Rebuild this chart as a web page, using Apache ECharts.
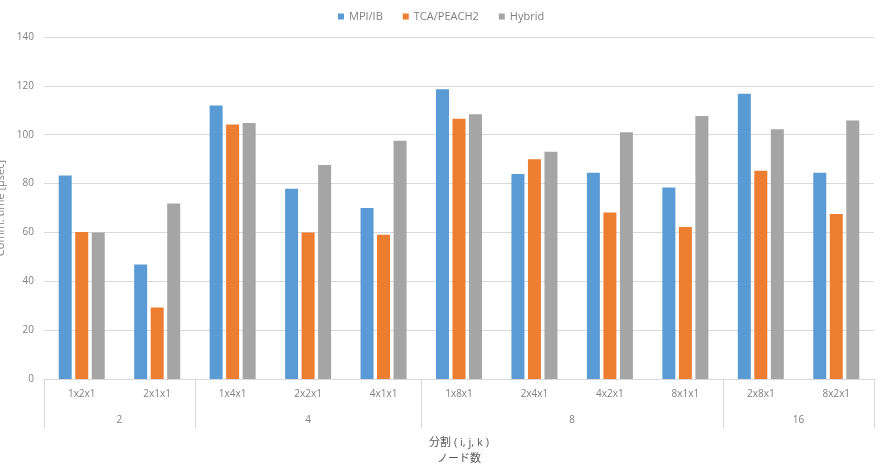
<!DOCTYPE html>
<html lang="ja">
<head>
    <meta charset="UTF-8">
    <title>Comm. time</title>
    <script src="https://cdn.jsdelivr.net/npm/echarts@6/dist/echarts.min.js"></script>
    <style>
        html, body { margin: 0; padding: 0; background: #fff; }
        #main { width: 881px; height: 465px; }
    </style>
</head>
<body>
<div id="main"></div>
<script>
    // 分割 (i, j, k) と ノード数
    var categories = ['1x2x1', '2x1x1', '1x4x1', '2x2x1', '4x1x1', '1x8x1', '2x4x1', '4x2x1', '8x1x1', '2x8x1', '8x2x1'];
    var groupNames = ['2', '4', '8', '16'];
    var groupSizes = [2, 3, 4, 2];

    var mpiIB = [83.3, 46.9, 112, 77.9, 70, 118.6, 83.9, 84.4, 78.4, 116.8, 84.4];
    var tcaPeach2 = [60.2, 29.3, 104.2, 60, 59.1, 106.5, 90, 68.2, 62.2, 85.2, 67.5];
    var hybrid = [60, 71.8, 104.8, 87.6, 97.5, 108.4, 93, 101, 107.7, 102.2, 105.8];

    var yTicks = [0, 20, 40, 60, 80, 100, 120, 140];

    // group boundaries / centres on a 0..N value scale
    var bounds = [0], centres = [], acc = 0;
    groupSizes.forEach(function (s) {
        centres.push(acc + s / 2);
        acc += s;
        bounds.push(acc);
    });

    var labelColor = '#7f7f7f';
    var lineColor = '#d9d9d9';
    var font = '"Open Sans", "Noto Sans CJK JP", sans-serif';

    var myChart = echarts.init(document.getElementById('main'));
    var option = {
        animation: false,
        color: ['#5b9bd5', '#ed7d31', '#a5a5a5'],
        textStyle: { fontFamily: font },
        legend: {
            top: 6,
            left: 333,
            icon: 'rect',
            itemWidth: 6,
            itemHeight: 6,
            itemGap: 20,
            textStyle: { fontSize: 11, color: labelColor, fontFamily: font },
            data: ['MPI/IB', 'TCA/PEACH2', 'Hybrid']
        },
        grid: { left: 44, right: 7, top: 37, bottom: 86, outerBoundsMode: 'none' },
        xAxis: [
            {
                type: 'category',
                data: categories,
                axisLine: { lineStyle: { color: lineColor } },
                axisTick: { show: false },
                axisLabel: { color: labelColor, fontSize: 10, margin: 10, interval: 0 }
            },
            {
                type: 'value',
                position: 'bottom',
                min: 0,
                max: categories.length,
                axisLine: { show: false },
                splitLine: { show: false },
                axisTick: {
                    show: true,
                    customValues: bounds,
                    length: 49,
                    lineStyle: { color: lineColor }
                },
                axisLabel: {
                    customValues: centres,
                    margin: 36,
                    fontSize: 10,
                    color: labelColor,
                    formatter: function (v) {
                        var i = centres.indexOf(v);
                        return i >= 0 ? groupNames[i] : '';
                    }
                },
                name: '分割 ( i, j, k )\nノード数',
                nameLocation: 'middle',
                nameGap: 56,
                nameTextStyle: { fontSize: 11, color: '#595959', lineHeight: 16, fontFamily: font }
            }
        ],
        yAxis: {
            type: 'value',
            min: yTicks[0],
            max: yTicks[yTicks.length - 1],
            interval: 20,
            axisLine: { show: false },
            axisTick: { show: false },
            splitLine: { lineStyle: { color: lineColor } },
            axisLabel: { color: labelColor, fontSize: 10, margin: 10 },
            name: 'Comm. time [μsec]',
            nameLocation: 'middle',
            nameGap: 36,
            nameTextStyle: { fontSize: 11, color: labelColor, fontFamily: font }
        },
        series: [
            { name: 'MPI/IB', type: 'bar', xAxisIndex: 0, data: mpiIB, barWidth: 13, barGap: '27%' },
            { name: 'TCA/PEACH2', type: 'bar', xAxisIndex: 0, data: tcaPeach2, barWidth: 13, barGap: '27%' },
            { name: 'Hybrid', type: 'bar', xAxisIndex: 0, data: hybrid, barWidth: 13, barGap: '27%' }
        ]
    };
    myChart.setOption(option);
</script>
</body>
</html>
